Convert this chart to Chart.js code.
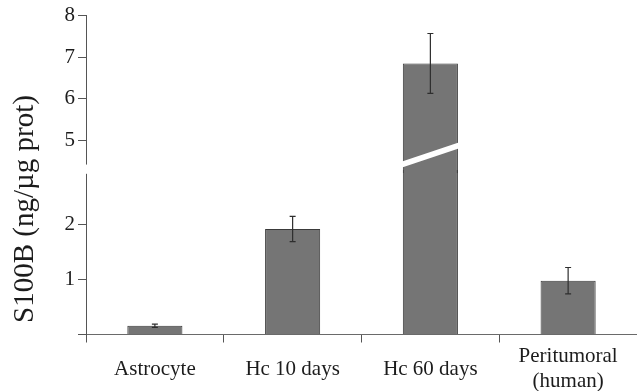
<!DOCTYPE html>
<html>
<head>
<meta charset="utf-8">
<script src="https://cdn.jsdelivr.net/npm/chart.js@4.4.0/dist/chart.umd.min.js"></script>
<style>
  html, body { margin: 0; padding: 0; background: #fff; }
  canvas { display: block; }
</style>
</head>
<body>
<canvas id="chart" width="637" height="391"></canvas>
<script>
// S100B content per group (ng/µg protein), mean ± error
const categories = ['Astrocyte', 'Hc 10 days', 'Hc 60 days', ['Peritumoral', '(human)']];
const s100b = [0.16, 1.92, 6.85, 0.98];
const s100bErr = [0.03, 0.23, 0.72, 0.24];

// Broken value axis: a lower segment and an upper segment
const lowerTicks = [0, 1, 2];
const upperTicks = [5, 6, 7, 8];
const lowerRange = [0, 2.936];
const upperRange = [4.21, 8];
const axisResume = 4.42;          // upper axis line starts here
const axisTitle = 'S100B (ng/µg prot)';

const FONT = '"Liberation Serif", "Times New Roman", serif';
const TEXT = '#1c1c1c';
const AXIS = '#555';

const isBroken = i => s100b[i] > lowerRange[1];
// the lower piece of a broken bar runs a little past the segment edge so the two pieces join seamlessly
const lowerPart = s100b.map(v => Math.min(v, lowerRange[1] + 0.06));
// the upper piece is a floating bar starting at the bottom of the upper segment
const upperPart = s100b.map(v => (v > lowerRange[1] ? [upperRange[0], v] : null));

// white gap in the value axis line between the two segments
const axisGap = {
  id: 'axisGap',
  afterDraw(chart) {
    const up = chart.scales.y2, lo = chart.scales.y;
    const ctx = chart.ctx;
    const top = up.getPixelForValue(axisResume);
    ctx.save();
    ctx.fillStyle = '#fff';
    ctx.fillRect(up.right - 4, top, 8, lo.top - top + 0.5);
    ctx.restore();
  }
};

// diagonal break mark across bars that run into the upper segment, then error bars
const barExtras = {
  id: 'barExtras',
  afterDatasetsDraw(chart) {
    const ctx = chart.ctx;
    const lo = chart.scales.y, up = chart.scales.y2;
    const metaLo = chart.getDatasetMeta(0);
    const metaUp = chart.getDatasetMeta(1);
    ctx.save();
    s100b.forEach((v, i) => {
      if (!isBroken(i)) return;
      const el = metaUp.data[i];
      const x0 = el.x - el.width / 2 - 1.5, x1 = el.x + el.width / 2 + 1.5;
      const yc = up.getPixelForValue(axisResume) - 9.5;
      const rise = 9.8, half = 3;
      ctx.fillStyle = '#fff';
      ctx.beginPath();
      ctx.moveTo(x0, yc + rise - half);
      ctx.lineTo(x1, yc - rise - half);
      ctx.lineTo(x1, yc - rise + half);
      ctx.lineTo(x0, yc + rise + half);
      ctx.closePath();
      ctx.fill();
    });
    ctx.strokeStyle = '#2e2e2e';
    ctx.lineWidth = 1.2;
    s100b.forEach((v, i) => {
      const scale = isBroken(i) ? up : lo;
      const x = metaLo.data[i].x;
      const yHi = scale.getPixelForValue(v + s100bErr[i]);
      const yLo = scale.getPixelForValue(v - s100bErr[i]);
      const cap = 3;
      ctx.beginPath();
      ctx.moveTo(x, yHi); ctx.lineTo(x, yLo);
      ctx.moveTo(x - cap, yHi); ctx.lineTo(x + cap, yHi);
      ctx.moveTo(x - cap, yLo); ctx.lineTo(x + cap, yLo);
      ctx.stroke();
    });
    ctx.restore();
  }
};

// rotated value-axis title
const yTitle = {
  id: 'yTitle',
  afterDraw(chart) {
    const ctx = chart.ctx;
    ctx.save();
    ctx.translate(25, 209);
    ctx.rotate(-Math.PI / 2);
    ctx.font = '29px ' + FONT;
    ctx.fillStyle = TEXT;
    ctx.textAlign = 'center';
    ctx.textBaseline = 'middle';
    ctx.fillText(axisTitle, 0, 0);
    ctx.restore();
  }
};

const barStyle = {
  backgroundColor: '#757575',
  borderColor: '#3a3a3a',
  grouped: false,
  clip: false,
  barPercentage: 0.4,
  categoryPercentage: 1.0
};

new Chart(document.getElementById('chart'), {
  type: 'bar',
  data: {
    labels: categories,
    datasets: [
      Object.assign({
        data: lowerPart,
        yAxisID: 'y',
        borderSkipped: false,
        borderWidth: ctx => (isBroken(ctx.dataIndex)
          ? { left: 1, right: 1, top: 0, bottom: 0 }
          : { left: 1, right: 1, top: 1, bottom: 0 })
      }, barStyle),
      Object.assign({
        data: upperPart,
        yAxisID: 'y2',
        borderSkipped: 'start',
        borderWidth: 1
      }, barStyle)
    ]
  },
  options: {
    responsive: false,
    animation: false,
    devicePixelRatio: 1,
    layout: { padding: { top: 15, right: 0, bottom: 0, left: 0 } },
    plugins: { legend: { display: false }, tooltip: { enabled: false } },
    scales: {
      x: {
        offset: true,
        grid: { offset: true, drawOnChartArea: false, drawTicks: true, tickLength: 8, color: AXIS },
        border: { display: true, color: '#6a6a6a', width: 1 },
        ticks: {
          font: { family: FONT, size: 21 }, color: TEXT,
          padding: 14, crossAlign: 'center', maxRotation: 0, autoSkip: false
        },
        afterFit: s => { s.height = 56.5; }
      },
      y: {
        type: 'linear', position: 'left', stack: 'value', stackWeight: 161.5,
        min: lowerRange[0], max: lowerRange[1],
        afterBuildTicks: s => { s.ticks = lowerTicks.map(v => ({ value: v })); },
        ticks: {
          font: { family: FONT, size: 21 }, color: TEXT, padding: 3,
          callback: v => (v === 0 ? '' : String(v))
        },
        grid: { drawOnChartArea: false, drawTicks: true, tickLength: 8, color: AXIS },
        border: { display: true, color: AXIS, width: 1 },
        afterFit: s => { s.width = 86; }
      },
      y2: {
        type: 'linear', position: 'left', stack: 'value', stackWeight: 158,
        min: upperRange[0], max: upperRange[1],
        afterBuildTicks: s => { s.ticks = upperTicks.map(v => ({ value: v })); },
        ticks: {
          font: { family: FONT, size: 21 }, color: TEXT, padding: 3,
          callback: v => String(v)
        },
        grid: { drawOnChartArea: false, drawTicks: true, tickLength: 8, color: AXIS },
        border: { display: true, color: AXIS, width: 1 },
        afterFit: s => { s.width = 86; }
      }
    }
  },
  plugins: [axisGap, barExtras, yTitle]
});
</script>
</body>
</html>
